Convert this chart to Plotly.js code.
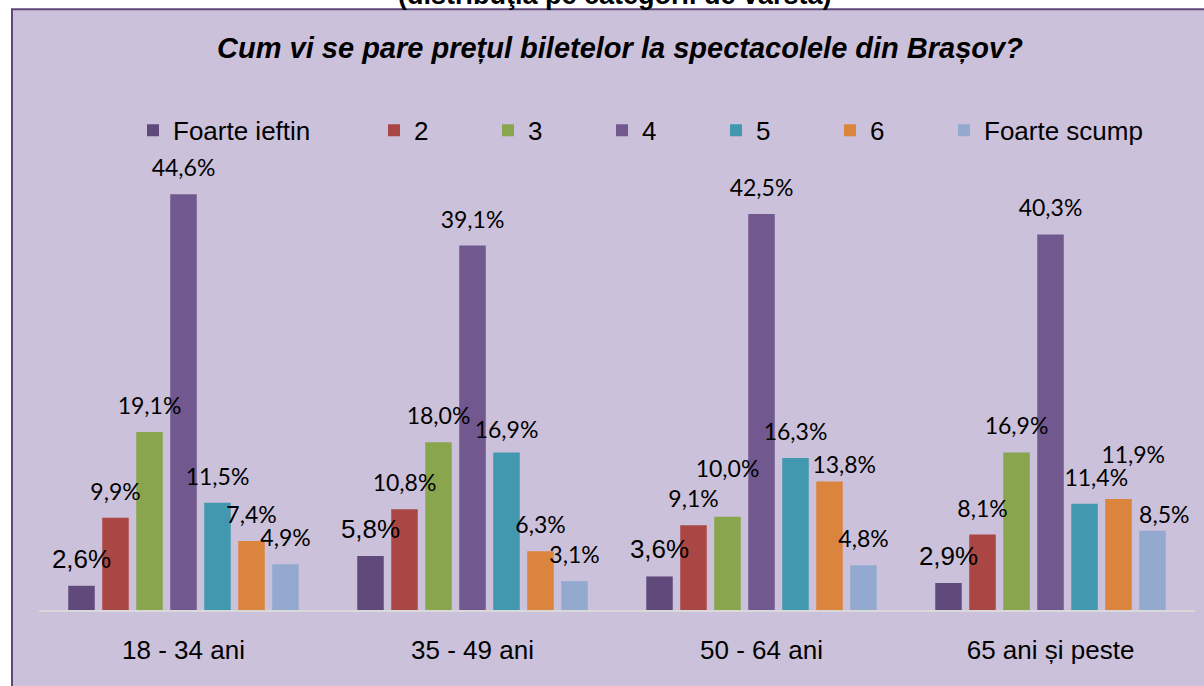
<!DOCTYPE html>
<html>
<head>
<meta charset="utf-8">
<script src="https://cdn.plot.ly/plotly-3.0.1.min.js"></script>
<style>
  html, body { margin: 0; padding: 0; background: #ffffff; }
  #chart { width: 1204px; height: 686px; }
</style>
</head>
<body>
<div id="chart"></div>
<script>
// ---- data ----
const categories = ['18 - 34 ani', '35 - 49 ani', '50 - 64 ani', '65 ani și peste'];
const seriesNames = ['Foarte ieftin', '2', '3', '4', '5', '6', 'Foarte scump'];
const foarteIeftin = [2.6, 5.8, 3.6, 2.9];
const val2 = [9.9, 10.8, 9.1, 8.1];
const val3 = [19.1, 18.0, 10.0, 16.9];
const val4 = [44.6, 39.1, 42.5, 40.3];
const val5 = [11.5, 16.9, 16.3, 11.4];
const val6 = [7.4, 6.3, 13.8, 11.9];
const foarteScump = [4.9, 3.1, 4.8, 8.5];
const titleText = 'Cum vi se pare prețul biletelor la spectacolele din Brașov?';
const topText = '(distribuţia pe categorii de vârstă)';

// ---- styles ----
const colors = ['#604A7B', '#AA4643', '#89A54E', '#71588F', '#4198AF', '#DB843D', '#93A9CF'];
const allValues = [foarteIeftin, val2, val3, val4, val5, val6, foarteScump];
const legendWidths = [196, 69, 69, 69, 69, 69, 175];
// label placement tweaks (as in the original, some labels were nudged by hand)
// key: seriesIndex-categoryIndex ; lift = padding font size (default 10), shift = leading spaces
const labelLift = { '2-2': 24.5, '5-2': 3, '5-3': 21.8, '6-3': 3, '4-1': 7.3 };
const labelShift = { '5-2': 5, '4-3': 4, '5-3': 5, '6-3': 4 };

const W = 1204, H = 686;
const mL = 39, mR = 9, mT = 143.7, mB = 76.3;
const plotW = W - mL - mR, plotH = H - mT - mB;
const px2x = p => (p - mL) / plotW;
const py2y = p => (H - mB - p) / plotH;

function fmt(v) { return v.toFixed(1).replace('.', ',') + '%'; }

// solid bars (with legend)
const barTraces = allValues.map((vals, i) => ({
  type: 'bar',
  name: seriesNames[i],
  x: categories,
  y: vals,
  offsetgroup: 'g' + i,
  marker: { color: colors[i], line: { width: 0 } },
  legendwidth: legendWidths[i],
  hoverinfo: 'skip'
}));

// label carriers drawn after all bars so labels sit on top
const labelTraces = allValues.map((vals, i) => {
  const isFirst = i === 0;
  const fam = isFirst ? "'Liberation Sans', Arial, sans-serif" : "Lato, sans-serif";
  const fs = isFirst ? 26 : 23;
  return {
    type: 'bar',
    name: seriesNames[i] + ' labels',
    x: categories,
    y: vals,
    offsetgroup: 'g' + i,
    showlegend: false,
    text: vals.map((v, j) => {
      const n = labelShift[i + '-' + j] || 0;
      return '<span style="font-family:' + fam + ';font-size:' + fs + 'px">' +
        '\u00a0'.repeat(n) + fmt(v) + '</span><br>\u00a0';
    }),
    textposition: 'outside',
    textfont: {
      family: isFirst ? 'Liberation Sans' : 'Lato',
      size: vals.map((v, j) => labelLift[i + '-' + j] || 10),
      color: '#000000'
    },
    constraintext: 'none',
    cliponaxis: false,
    marker: { color: 'rgba(0,0,0,0)', line: { width: 0 } },
    hoverinfo: 'skip'
  };
});

const layout = {
  width: W, height: H,
  margin: { l: mL, r: mR, t: mT, b: mB, pad: 0 },
  paper_bgcolor: '#ffffff',
  plot_bgcolor: 'rgba(0,0,0,0)',
  barmode: 'group',
  bargap: 0.1765,
  bargroupgap: 0.22,
  showlegend: true,
  font: { family: 'Liberation Sans, Arial, sans-serif', color: '#000000' },
  title: {
    text: titleText,
    font: { family: 'Liberation Sans, Arial, sans-serif', size: 29, weight: 'bold', style: 'italic', color: '#000000' },
    xref: 'paper', x: px2x(620), xanchor: 'center',
    yref: 'container', y: 1 - 48 / H, yanchor: 'middle'
  },
  legend: {
    orientation: 'h',
    x: px2x(133), xanchor: 'left',
    y: py2y(130), yanchor: 'middle',
    font: { family: 'Liberation Sans, Arial, sans-serif', size: 26, color: '#000000' },
    bgcolor: 'rgba(0,0,0,0)',
    itemwidth: 30,
    traceorder: 'normal'
  },
  xaxis: {
    type: 'category',
    showgrid: false,
    zeroline: false,
    showline: true,
    linecolor: '#D9D9D9',
    linewidth: 2,
    ticks: '',
    ticklabelstandoff: 16,
    tickfont: { family: 'Liberation Sans, Arial, sans-serif', size: 26, color: '#000000' },
    fixedrange: true
  },
  yaxis: {
    range: [0, 50],
    visible: false,
    showgrid: false,
    zeroline: false,
    fixedrange: true
  },
  shapes: [{
    type: 'rect', xref: 'paper', yref: 'paper', layer: 'below',
    x0: px2x(12), x1: px2x(1220), y0: py2y(700), y1: py2y(9),
    fillcolor: '#CCC1DA',
    line: { color: '#5F497A', width: 2 }
  }],
  annotations: [{
    text: '<b>' + topText + '</b>',
    xref: 'paper', yref: 'paper',
    x: px2x(615), xanchor: 'center',
    y: py2y(12), yanchor: 'bottom',
    showarrow: false,
    font: { family: 'Liberation Sans, Arial, sans-serif', size: 27, color: '#000000' }
  }]
};

Plotly.newPlot('chart', barTraces.concat(labelTraces), layout, { displayModeBar: false, staticPlot: true });
</script>
</body>
</html>
